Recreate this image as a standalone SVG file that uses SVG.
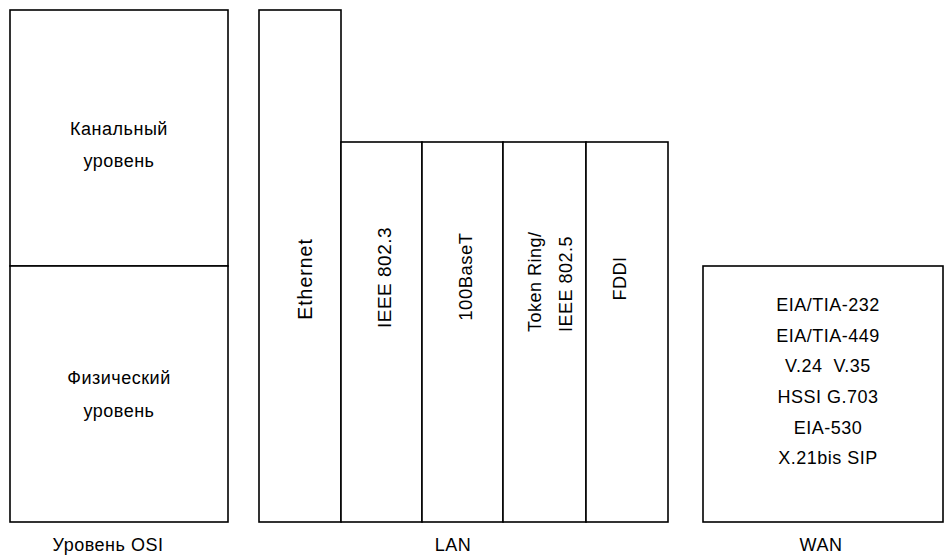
<svg xmlns="http://www.w3.org/2000/svg" width="945" height="555" viewBox="0 0 945 555">
  <style>
    .box { fill: #ffffff; stroke: #000000; stroke-width: 1.6; }
    .t { font-family: "Liberation Sans", Arial, sans-serif; font-size: 18px; letter-spacing: 0.5px; fill: #000000; text-anchor: middle; }
    .ts { font-family: "Liberation Sans", Arial, sans-serif; font-size: 18px; letter-spacing: 0.5px; fill: #000000; text-anchor: start; }
  </style>
  <rect x="0" y="0" width="945" height="555" fill="#ffffff"/>

  <g id="osi">
    <g id="osi-datalink">
      <rect class="box" x="10" y="10" width="218" height="256"/>
      <text class="t" x="119" y="135">Канальный</text>
      <text class="t" x="119" y="167">уровень</text>
    </g>
    <g id="osi-physical">
      <rect class="box" x="10" y="266" width="218" height="256"/>
      <text class="t" x="119" y="384">Физический</text>
      <text class="t" x="119" y="417">уровень</text>
    </g>
    <text class="t" x="108" y="551">Уровень OSI</text>
  </g>

  <g id="lan">
    <g id="ethernet">
      <rect class="box" x="259" y="10" width="82" height="512"/>
      <text class="t" style="font-size:19.5px;letter-spacing:1px" transform="translate(312,279) rotate(-90)">Ethernet</text>
    </g>
    <g id="ieee8023">
      <rect class="box" x="341" y="142" width="81" height="380"/>
      <text class="t" style="font-size:19px" transform="translate(391,277.5) rotate(-90)">IEEE 802.3</text>
    </g>
    <g id="base100t">
      <rect class="box" x="422" y="142" width="81" height="380"/>
      <text class="t" style="font-size:18.5px" transform="translate(472,276.5) rotate(-90)">100BaseT</text>
    </g>
    <g id="tokenring">
      <rect class="box" x="503" y="142" width="83" height="380"/>
      <text class="ts" transform="translate(541,332) rotate(-90)">Token Ring/</text>
      <text class="ts" transform="translate(572,332) rotate(-90)">IEEE 802.5</text>
    </g>
    <g id="fddi">
      <rect class="box" x="586" y="142" width="82" height="380"/>
      <text class="t" transform="translate(626,278.5) rotate(-90)">FDDI</text>
    </g>
    <text class="t" x="453" y="551">LAN</text>
  </g>

  <g id="wan">
    <rect class="box" x="703" y="266" width="240" height="256"/>
    <text class="t" x="828" y="311">EIA/TIA-232</text>
    <text class="t" x="828" y="342">EIA/TIA-449</text>
    <text class="t" x="828" y="372" xml:space="preserve">V.24  V.35</text>
    <text class="t" x="828" y="403">HSSI G.703</text>
    <text class="t" x="828" y="434">EIA-530</text>
    <text class="t" x="828" y="464">X.21bis SIP</text>
    <text class="t" x="821" y="551">WAN</text>
  </g>

  <g id="connectors"></g>
</svg>
